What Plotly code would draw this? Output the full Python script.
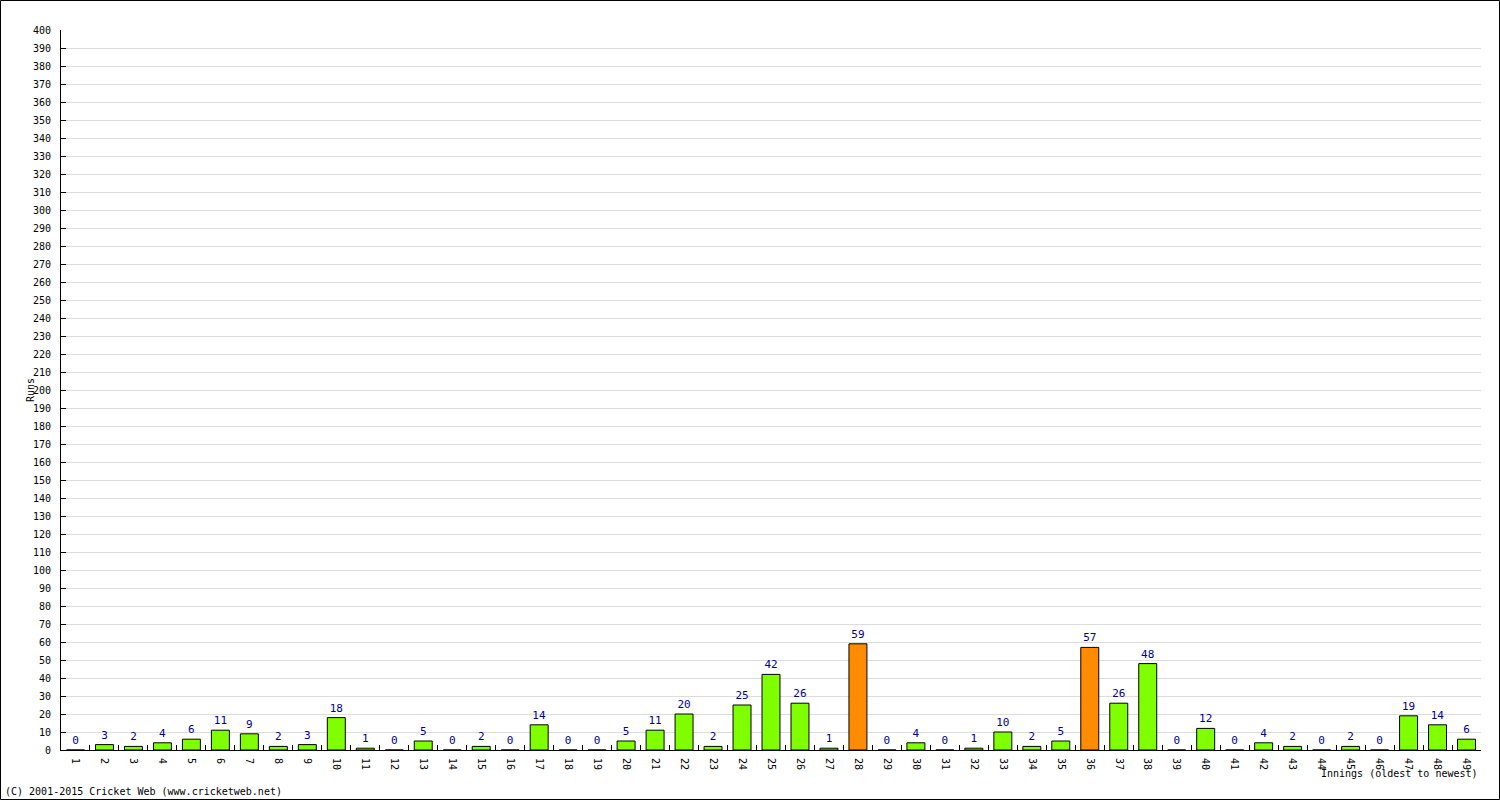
import plotly.graph_objects as go

innings = [str(i) for i in range(1, 50)]
runs = [0, 3, 2, 4, 6, 11, 9, 2, 3, 18,
        1, 0, 5, 0, 2, 0, 14, 0, 0, 5,
        11, 20, 2, 25, 42, 26, 1, 59, 0, 4,
        0, 1, 10, 2, 5, 57, 26, 48, 0, 12,
        0, 4, 2, 0, 2, 0, 19, 14, 6]
y_ticks = list(range(0, 401, 10))

GREEN = "#80FF00"
ORANGE = "#FF8C00"
colors = [ORANGE if r >= 50 else GREEN for r in runs]

W, H = 1500, 800
L, R, T, B = 61, 19, 30, 50
PW, PH = W - L - R, H - T - B
FONT = "DejaVu Sans Mono"

fig = go.Figure(go.Bar(
    x=innings, y=runs,
    marker=dict(color=colors, line=dict(color="black", width=1)),
    text=[str(r) for r in runs], textposition="outside",
    textfont=dict(family=FONT, size=11, color="#00008B"),
    cliponaxis=False, hoverinfo="x+y",
))

fig.update_layout(
    width=W, height=H,
    margin=dict(l=L, r=R, t=T, b=B, pad=0),
    paper_bgcolor="white", plot_bgcolor="white",
    bargap=0.38, showlegend=False,
    font=dict(family=FONT, size=10, color="black"),
    xaxis=dict(type="category", tickangle=90, ticks="inside", ticklen=5,
               tickson="boundaries", tickcolor="black", showline=True,
               linecolor="black", linewidth=1, showgrid=False,
               ticklabelstandoff=5,
               tickfont=dict(family=FONT, size=10, color="black"),
               range=[-0.5, len(innings) - 0.5]),
    yaxis=dict(range=[0, 400], tickvals=y_ticks, ticktext=[str(v) for v in y_ticks],
               ticks="inside", ticklen=5, tickcolor="black", showline=True,
               linecolor="black", linewidth=1, showgrid=True, gridcolor="#dddddd",
               gridwidth=1, zeroline=False, ticklabelstandoff=7,
               tickfont=dict(family=FONT, size=10, color="black")),
    shapes=[dict(type="rect", xref="paper", yref="paper",
                 x0=(-L + 0.5) / PW, x1=(PW + R - 0.5) / PW,
                 y0=(-B + 0.5) / PH, y1=(PH + T - 0.5) / PH,
                 line=dict(color="black", width=1), fillcolor="rgba(0,0,0,0)")],
    annotations=[
        dict(text="Runs", xref="paper", yref="paper", x=(30 - L) / PW, y=(H - B - 390) / PH,
             textangle=-90, showarrow=False, xanchor="center", yanchor="middle",
             font=dict(family=FONT, size=10, color="black")),
        dict(text="Innings (oldest to newest)", xref="paper", yref="paper",
             x=(1480 - L) / PW, y=(H - B - 773) / PH, showarrow=False,
             xanchor="right", yanchor="middle",
             font=dict(family=FONT, size=10, color="black")),
        dict(text="(C) 2001-2015 Cricket Web (www.cricketweb.net)", xref="paper", yref="paper",
             x=(3 - L) / PW, y=(H - B - 791) / PH, showarrow=False,
             xanchor="left", yanchor="middle",
             font=dict(family=FONT, size=10, color="black")),
    ],
)

fig.write_html("out.html")
